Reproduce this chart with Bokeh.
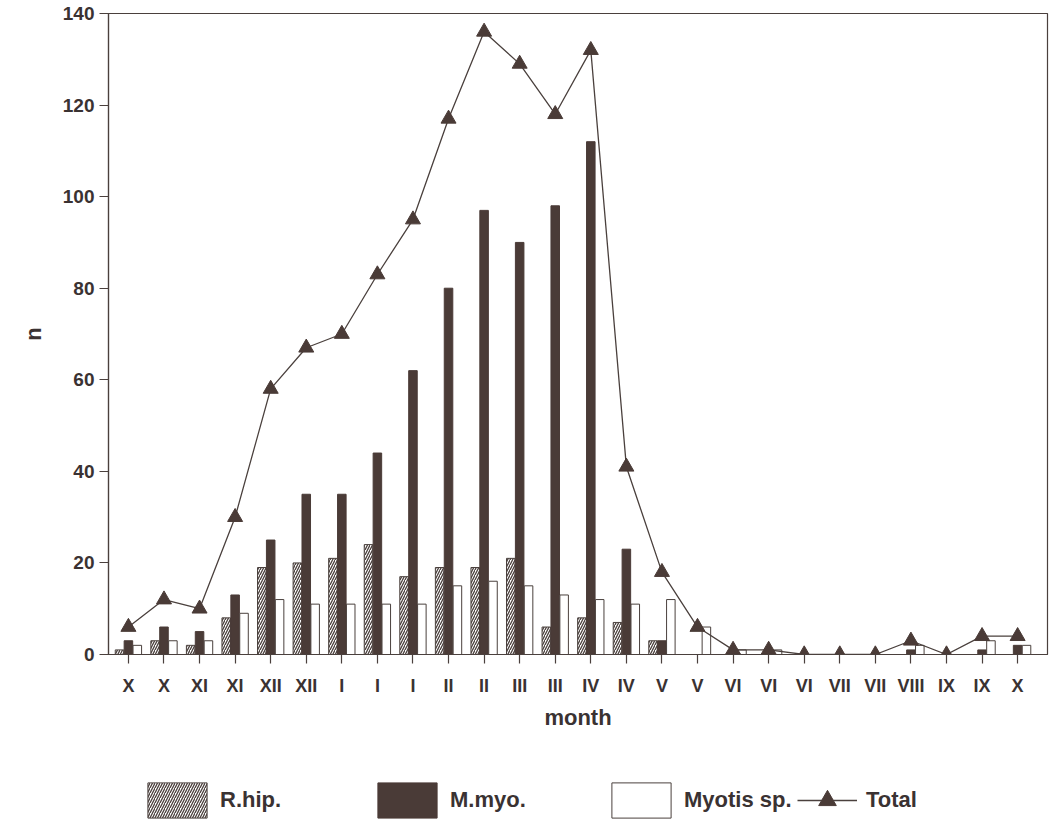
from bokeh.plotting import figure
from bokeh.models import Range1d, FixedTicker, Legend, LegendItem, ColumnDataSource
from bokeh.layouts import column
from bokeh.transform import dodge
from bokeh.embed import file_html
from bokeh.resources import INLINE

# ---- data ----
months = ["X", "X", "XI", "XI", "XII", "XII", "I", "I", "I", "II", "II", "III", "III",
          "IV", "IV", "V", "V", "VI", "VI", "VI", "VII", "VII", "VIII", "IX", "IX", "X"]
r_hip = [1, 3, 2, 8, 19, 20, 21, 24, 17, 19, 19, 21, 6, 8, 7, 3, 0, 0, 0, 0, 0, 0, 0, 0, 0, 0]
m_myo = [3, 6, 5, 13, 25, 35, 35, 44, 62, 80, 97, 90, 98, 112, 23, 3, 0, 0, 0, 0, 0, 0, 1, 0, 1, 2]
myotis_sp = [2, 3, 3, 9, 12, 11, 11, 11, 11, 15, 16, 15, 13, 12, 11, 12, 6, 1, 1, 0, 0, 0, 2, 0, 3, 2]
total = [6, 12, 10, 30, 58, 67, 70, 83, 95, 117, 136, 129, 118, 132, 41, 18, 6, 1, 1, 0, 0, 0, 3, 0, 4, 4]
y_ticks = [0, 20, 40, 60, 80, 100, 120, 140]
series_labels = ["R.hip.", "M.myo.", "Myotis sp.", "Total"]

INK = "#4a403d"
DARK = "#4a3b37"
TEXT = "#3a3232"
FONT = "Liberation Sans"

xs = list(range(len(months)))
src = ColumnDataSource(dict(x=xs, r_hip=r_hip, m_myo=m_myo, myotis=myotis_sp, total=total))

p = figure(width=1049, height=760,
           x_range=Range1d(-0.56, 25.84), y_range=Range1d(0, 140),
           output_backend="svg", toolbar_location=None,
           min_border_left=108, min_border_right=2, min_border_top=13, min_border_bottom=106)
p.background_fill_color = "white"
p.border_fill_color = "white"
p.outline_line_color = INK
p.outline_line_width = 1.2
p.xgrid.visible = False
p.ygrid.visible = False

bw = 0.24
hatched = dict(fill_color="white", line_color=INK, line_width=1,
               hatch_pattern="/", hatch_color=INK, hatch_scale=5, hatch_weight=1.3)
solid = dict(fill_color=DARK, line_color=DARK, line_width=1)
hollow = dict(fill_color="white", line_color=INK, line_width=1)
line_style = dict(line_color=INK, line_width=1.3)
tri_style = dict(marker="triangle", fill_color=DARK, line_color=DARK)

p.vbar(x=dodge("x", -0.25), top="r_hip", width=bw, source=src, **hatched)
p.vbar(x="x", top="m_myo", width=bw, source=src, **solid)
p.vbar(x=dodge("x", 0.25), top="myotis", width=bw, source=src, **hollow)
p.line("x", "total", source=src, **line_style)
p.scatter("x", "total", source=src, size=15, **tri_style)

# axes
for ax in (p.xaxis[0], p.yaxis[0]):
    ax.axis_line_color = INK
    ax.axis_line_width = 1.2
    ax.major_tick_line_color = INK
    ax.major_tick_line_width = 1.2
    ax.major_tick_in = 0
    ax.major_tick_out = 9
    ax.minor_tick_line_color = None
    ax.major_label_text_font = FONT
    ax.major_label_text_font_style = "bold"
    ax.major_label_text_color = TEXT
    ax.axis_label_text_font = FONT
    ax.axis_label_text_font_style = "bold"
    ax.axis_label_text_color = TEXT

p.xaxis.ticker = FixedTicker(ticks=xs)
p.xaxis.major_label_overrides = {i: m for i, m in enumerate(months)}
p.xaxis.major_label_text_font_size = "18px"
p.xaxis.major_label_standoff = 12
p.xaxis.axis_label = "month"
p.xaxis.axis_label_text_font_size = "22px"
p.xaxis.axis_label_standoff = 6

p.yaxis.ticker = FixedTicker(ticks=y_ticks)
p.yaxis.major_label_text_font_size = "19px"
p.yaxis.major_label_standoff = 5
p.yaxis.axis_label = "n"
p.yaxis.axis_label_text_font_size = "22px"
p.yaxis.axis_label_standoff = 14

# ---- legend strip below the chart (key renderers hold no drawable data) ----
lg = figure(width=1049, height=62, x_range=Range1d(0, 1), y_range=Range1d(0, 1),
            x_axis_type=None, y_axis_type=None, output_backend="svg",
            toolbar_location=None, min_border=0)
lg.outline_line_color = None
lg.background_fill_color = "white"
lg.border_fill_color = "white"

nan = float("nan")
k1 = lg.vbar(x=[nan], bottom=[nan], top=[nan], width=0.1, **hatched)
k2 = lg.vbar(x=[nan], bottom=[nan], top=[nan], width=0.1, **solid)
k3 = lg.vbar(x=[nan], bottom=[nan], top=[nan], width=0.1, **hollow)
k4a = lg.line(x=[nan, nan], y=[nan, nan], **line_style)
k4b = lg.scatter(x=[nan], y=[nan], size=15, **tri_style)

legend_keys = [[k1], [k2], [k3], [k4a, k4b]]
legend_x = [32, 262, 496, 689]   # offsets from the aligned frame's left edge
glyph_w = [74, 74, 74, 60]
standoff = [6, 6, 6, 9]
for label, rends, lx, gw, so in zip(series_labels, legend_keys, legend_x, glyph_w, standoff):
    leg = Legend(items=[LegendItem(label=label, renderers=rends)],
                 location=(lx, 0), orientation="horizontal",
                 glyph_width=gw, glyph_height=44, label_standoff=so,
                 padding=0, margin=0, spacing=0,
                 border_line_alpha=0, background_fill_alpha=0,
                 label_text_font=FONT, label_text_font_style="bold",
                 label_text_font_size="22px", label_text_color=TEXT)
    lg.add_layout(leg)

open("out.html", "w").write(file_html(column(p, lg, spacing=0), INLINE))
